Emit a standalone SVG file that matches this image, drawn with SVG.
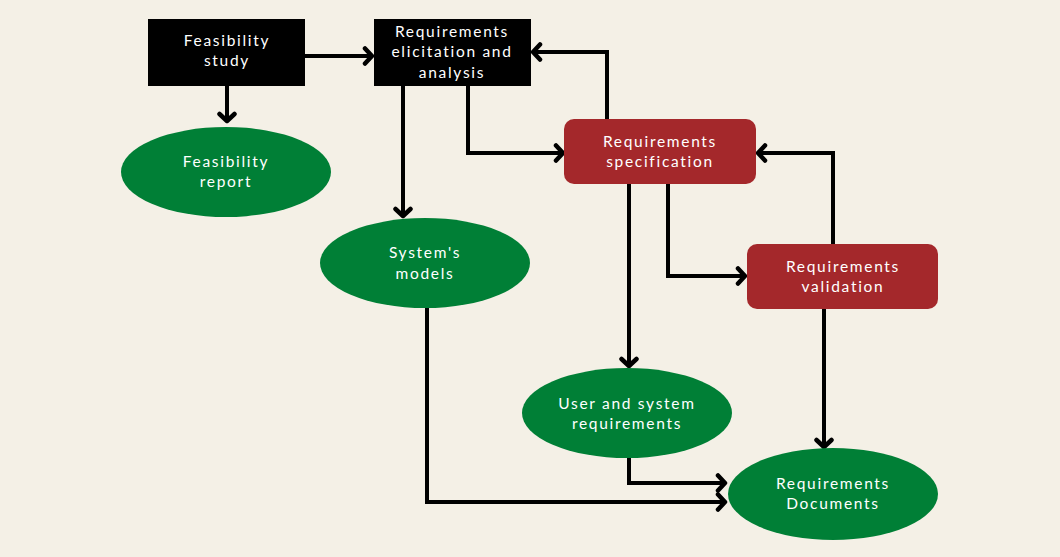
<svg xmlns="http://www.w3.org/2000/svg" width="1060" height="557" viewBox="0 0 1060 557">
<defs>
<marker id="arr" markerUnits="userSpaceOnUse" markerWidth="20" markerHeight="20" refX="10" refY="10" orient="auto" viewBox="0 0 20 20">
<path d="M3,2.5 L10,10 L3,17.5" fill="none" stroke="#000" stroke-width="4.5" stroke-linecap="round" stroke-linejoin="round"/>
</marker>
<style>
.lbl{font-family:"Lato","Noto Sans",sans-serif;font-size:15.5px;fill:#fff;text-anchor:middle;dominant-baseline:central;letter-spacing:1.7px}
.blk{fill:#000}
.red{fill:#A4282B}
.grn{fill:#007F36}
.con{fill:none;stroke:#000;stroke-width:4;stroke-linejoin:miter;marker-end:url(#arr)}
</style>
</defs>
<rect width="1060" height="557" fill="#F4F0E6"/>
<g id="connectors">
<path class="con" d="M305,56 H372"/>
<path class="con" d="M227,86 V121"/>
<path class="con" d="M403,86 V216"/>
<path class="con" d="M468,86 V153 H563"/>
<path class="con" d="M607,119 V52 H533"/>
<path class="con" d="M629,184 V366"/>
<path class="con" d="M668,184 V276 H745"/>
<path class="con" d="M833,244 V153 H758"/>
<path class="con" d="M824,309 V447"/>
<path class="con" d="M629,458 V483 H725"/>
<path class="con" d="M427,308 V502 H725"/>
</g>
<g id="feasibility-study">
<rect class="blk" x="148" y="19" width="157" height="67"/>
<text class="lbl" x="227" y="40">Feasibility</text>
<text class="lbl" x="227" y="60">study</text>
</g>
<g id="elicitation">
<rect class="blk" x="374" y="19" width="157" height="67"/>
<text class="lbl" x="452" y="31">Requirements</text>
<text class="lbl" x="452" y="51">elicitation and</text>
<text class="lbl" x="452" y="72">analysis</text>
</g>
<g id="feasibility-report">
<ellipse class="grn" cx="226" cy="172" rx="105" ry="45"/>
<text class="lbl" x="226" y="161">Feasibility</text>
<text class="lbl" x="226" y="181">report</text>
</g>
<g id="systems-models">
<ellipse class="grn" cx="425" cy="263" rx="105" ry="45"/>
<text class="lbl" x="425" y="252">System's</text>
<text class="lbl" x="425" y="273">models</text>
</g>
<g id="specification">
<rect class="red" x="564" y="119" width="192" height="65" rx="10"/>
<text class="lbl" x="660" y="141">Requirements</text>
<text class="lbl" x="660" y="161">specification</text>
</g>
<g id="validation">
<rect class="red" x="747" y="244" width="191" height="65" rx="10"/>
<text class="lbl" x="843" y="266">Requirements</text>
<text class="lbl" x="843" y="286">validation</text>
</g>
<g id="user-system-requirements">
<ellipse class="grn" cx="627" cy="413" rx="105" ry="45"/>
<text class="lbl" x="627" y="403">User and system</text>
<text class="lbl" x="627" y="423">requirements</text>
</g>
<g id="requirements-documents">
<ellipse class="grn" cx="833" cy="494" rx="105" ry="46"/>
<text class="lbl" x="833" y="483">Requirements</text>
<text class="lbl" x="833" y="503">Documents</text>
</g>
</svg>
